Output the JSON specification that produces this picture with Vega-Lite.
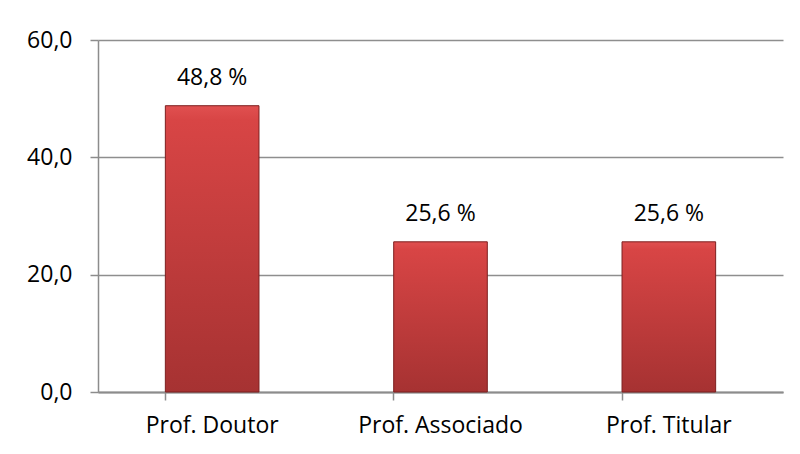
{
  "$schema": "https://vega.github.io/schema/vega-lite/v6.json",
  "autosize": "none",
  "width": 685,
  "height": 352,
  "padding": {"left": 98, "top": 40, "right": 17, "bottom": 62},
  "background": "white",
  "config": {
    "view": {"stroke": null},
    "font": "Open Sans",
    "axis": {"labelFont": "Open Sans", "labelFontSize": 23, "labelColor": "#000000"}
  },
  "data": {
    "values": [
      {"categoria": "Prof. Doutor", "valor": 48.8},
      {"categoria": "Prof. Associado", "valor": 25.6},
      {"categoria": "Prof. Titular", "valor": 25.6}
    ]
  },
  "transform": [
    {"calculate": "replace(format(datum.valor, '.1f'), '.', ',') + ' %'", "as": "rotulo"}
  ],
  "encoding": {
    "x": {
      "field": "categoria",
      "type": "nominal",
      "sort": null,
      "scale": {"paddingInner": 0.59, "paddingOuter": 0.295},
      "axis": {
        "title": null,
        "labelAngle": 0,
        "bandPosition": 0,
        "domainColor": "#8c8c8c",
        "domainWidth": 2,
        "tickColor": "#8c8c8c",
        "tickWidth": 1.5,
        "tickSize": 8,
        "labelPadding": 14,
        "labelBaseline": "top"
      }
    },
    "y": {
      "field": "valor",
      "type": "quantitative",
      "scale": {"domain": [0, 60], "nice": false},
      "axis": {
        "title": null,
        "values": [0, 20, 40, 60],
        "labelExpr": "replace(format(datum.value, '.1f'), '.', ',')",
        "grid": true,
        "gridColor": "#8e8e8e",
        "gridWidth": 1.5,
        "domainColor": "#8c8c8c",
        "domainWidth": 1.5,
        "tickColor": "#8c8c8c",
        "tickWidth": 1.5,
        "tickSize": 8,
        "labelPadding": 18
      }
    }
  },
  "layer": [
    {
      "mark": {
        "type": "bar",
        "stroke": "#7d1f1f",
        "strokeWidth": 1,
        "color": {
          "gradient": "linear",
          "x1": 0, "y1": 0, "x2": 0, "y2": 1,
          "stops": [
            {"offset": 0, "color": "#e05050"},
            {"offset": 0.05, "color": "#d84545"},
            {"offset": 1, "color": "#a63232"}
          ]
        }
      }
    },
    {
      "mark": {"type": "text", "font": "Open Sans", "fontSize": 23, "color": "#000000", "baseline": "alphabetic", "dy": -21},
      "encoding": {"text": {"field": "rotulo"}}
    }
  ]
}
